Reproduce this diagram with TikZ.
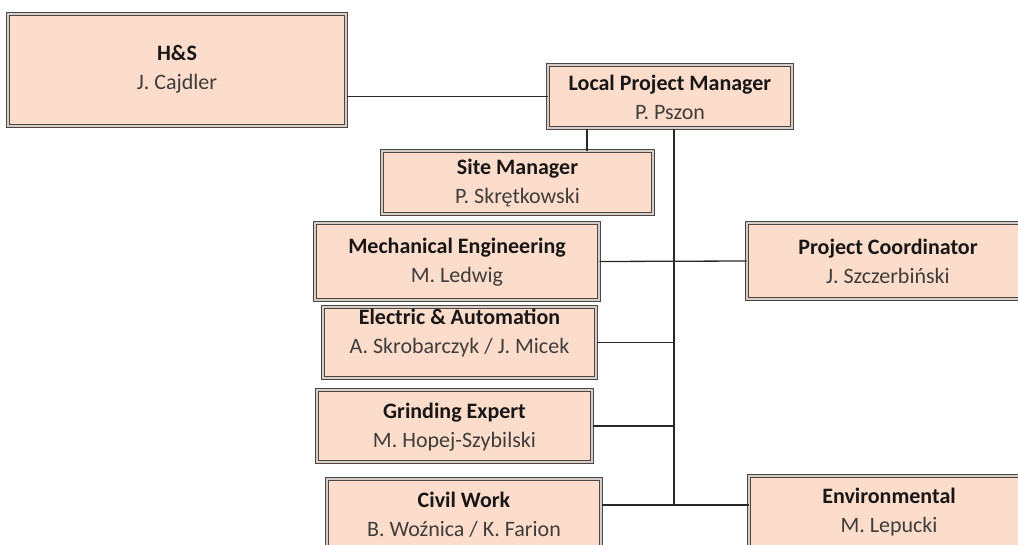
\documentclass[tikz,border=0pt]{standalone}
\usepackage{fontspec}
\setmainfont{Carlito}
\definecolor{boxfill}{RGB}{252,221,204}
\definecolor{boxline}{RGB}{75,70,68}
\definecolor{gapcol}{RGB}{215,205,200}
\definecolor{namecol}{RGB}{64,60,58}
\definecolor{titlecol}{RGB}{25,22,22}
\definecolor{linkcol}{RGB}{40,40,40}
\tikzset{
  box/.style={draw=boxline, line width=1pt, double=gapcol, double distance=1.3pt,
    fill=boxfill, inner sep=0pt, anchor=center},
  lbl/.style={align=center, inner sep=0pt, font=\fontsize{22}{29}\selectfont, text=namecol},
  link/.style={draw=linkcol, line width=1.3pt}
}
\newcommand{\ttl}[1]{{\bfseries\color{titlecol}#1}}
\begin{document}
\begin{tikzpicture}[x=1pt,y=-1pt]
\clip (0,0) rectangle (1018,544);
\fill[white] (0,0) rectangle (1018,544);
% boxes
\node[box, minimum width=338pt, minimum height=112pt] (hs) at (177,70) {};
\node[box, minimum width=244pt, minimum height=63pt] (lpm) at (670,96.5) {};
\node[box, minimum width=271pt, minimum height=63pt] (site) at (517.5,182.5) {};
\node[box, minimum width=284pt, minimum height=77pt] (mech) at (457,261.5) {};
\node[box, minimum width=282pt, minimum height=76pt] (pc) at (888,261) {};
\node[box, minimum width=273pt, minimum height=71pt] (elec) at (459.5,342.5) {};
\node[box, minimum width=275pt, minimum height=72pt] (grind) at (454.5,426) {};
\node[box, minimum width=274pt, minimum height=77pt] (civil) at (464,517.5) {};
\node[box, minimum width=280pt, minimum height=77pt] (env) at (889,514.5) {};
% labels
\node[lbl] (hsT) at (177,69) {\ttl{H\&S}\\J. Cajdler};
\node[lbl] (lpmT) at (670,97) {\ttl{Local Project Manager}\\P. Pszon};
\node[lbl] (siteT) at (517.5,183) {\ttl{Site Manager}\\P. Skrętkowski};
\node[lbl] (mechT) at (457,262) {\ttl{Mechanical Engineering}\\M. Ledwig};
\node[lbl] (pcT) at (888,261) {\ttl{Project Coordinator}\\J. Szczerbiński};
\node[lbl] (elecT) at (459.5,333) {\ttl{Electric \& Automation}\\A. Skrobarczyk / J. Micek};
\node[lbl] (grindT) at (454.5,427) {\ttl{Grinding Expert}\\M. Hopej-Szybilski};
\node[lbl] (civilT) at (464,515) {\ttl{Civil Work}\\B. Woźnica / K. Farion};
\node[lbl] (envT) at (889,512) {\ttl{Environmental}\\M. Lepucki};
% connectors
\coordinate (trunkTop) at ([xshift=4pt]lpm.south);
\coordinate (trunkBot) at (674,505);
\draw[link] (lpm.west) -- (lpm.west -| hs.east);
\draw[link] ([xshift=-83pt]lpm.south) -- ([xshift=-83pt]lpm.south |- site.north);
\draw[link] (trunkTop) -- (trunkBot);
\draw[link] (mech.east) -- (pc.west);
\draw[link] (elec.east) -- (elec.east -| trunkBot);
\draw[link] (grind.east) -- (grind.east -| trunkBot);
\draw[link] (civil.east |- trunkBot) -- (env.west |- trunkBot);
\end{tikzpicture}
\end{document}
